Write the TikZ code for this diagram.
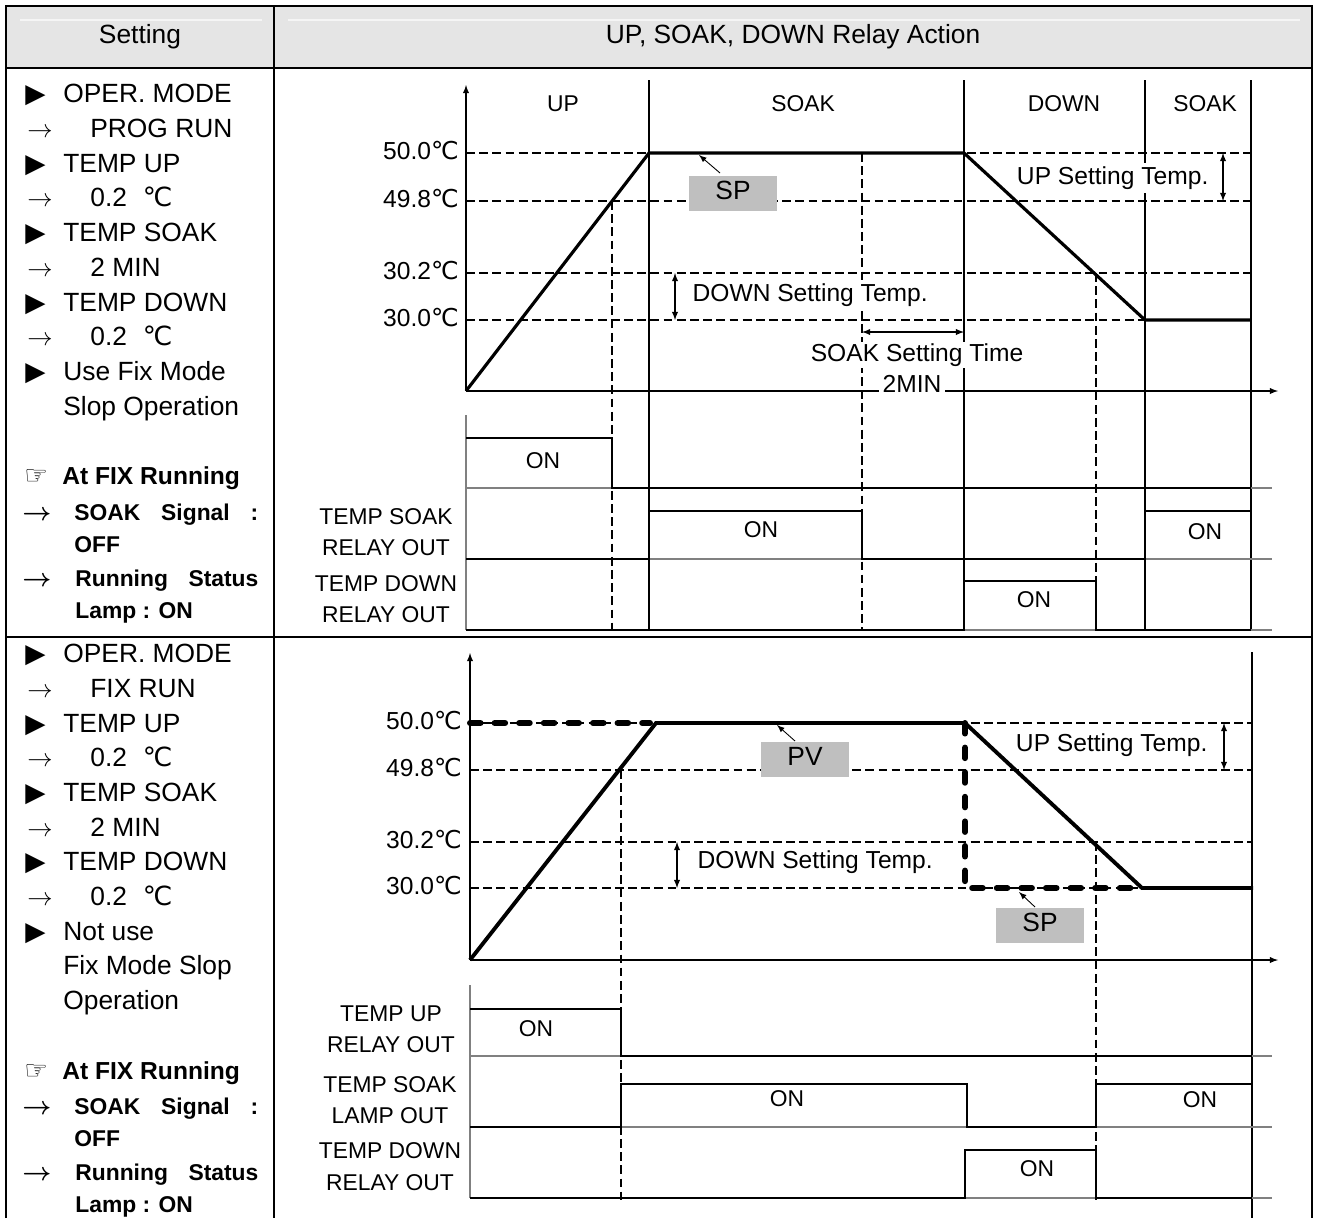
\documentclass[tikz,border=0pt]{standalone}
\usepackage{fontspec}
\setmainfont{Liberation Sans}
\newfontfamily\symfont{DejaVu Sans}
\usepackage{tikz}
\usetikzlibrary{arrows}

\newcommand{\dC}{{\symfont ℃}}
\newcommand{\bul}{{\symfont ▶}}
\newcommand{\rarr}{\(\rightarrow\)}
\newcommand{\brarr}{{\boldmath\(\rightarrow\)}}
\newcommand{\hand}{{\symfont ☞}}

\begin{document}
\begin{tikzpicture}[x=0.02cm, y=-0.02cm,
    every node/.style={inner sep=0pt, text height=0.72em, text depth=0pt, font=\fontsize{15}{18}\selectfont},
    tbl/.style={line width=1.3pt},
    lvl/.style={line width=0.8pt, dash pattern=on 5pt off 2.5pt},
    phaseln/.style={line width=0.6pt},
    curveln/.style={line width=1.8pt},
    sig/.style={line width=1.5pt},
    baseln/.style={color=gray, line width=0.6pt},
    spdash/.style={line width=3.4pt, line cap=round, dash pattern=on 6pt off 8pt},
    tagbox/.style={fill=gray!50, minimum width=1.76cm, minimum height=0.7cm},
    lbl/.style={font=\fontsize{14}{16}\selectfont},
    note/.style={lbl, fill=white, inner xsep=3pt, inner ysep=5pt},
    boldtxt/.style={anchor=west, font=\fontsize{13}{18}\bfseries},
    sigtxt/.style={font=\fontsize{13}{16}\selectfont},
    ptr/.style={-latex, line width=0.5pt},
    dimarr/.style={latex-latex, line width=0.6pt}]

\useasboundingbox (0,0) rectangle (1317,1218);
\fill[white] (0,0) rectangle (1317,1218);

% header
\fill[gray!20] (6,6) rectangle (1312,68);
\draw[gray!8, line width=0.8pt] (20,20) -- (262,20) (288,20) -- (1300,20);
\node (hset) at (140,37) {Setting};
\node (hact) at (793,37) {UP, SOAK, DOWN Relay Action};

% setting column, upper row
\foreach \y/\t in {96/OPER. MODE, 166/TEMP UP, 235/TEMP SOAK, 305/TEMP DOWN, 374/Use Fix Mode}{
    \node[anchor=west] (ba\y) at (25,\y) {\bul};
    \node[anchor=west] (ta\y) at (63,\y) {\t};
}
\foreach \y/\t in {131/PROG RUN, 200/0.2\hspace{0.6em}\dC, 270/2 MIN, 339/0.2\hspace{0.6em}\dC}{
    \node[anchor=west, font=\fontsize{14}{18}\selectfont] (ra\y) at (27,\y) {\rarr};
    \node[anchor=west] (sa\y) at (90,\y) {\t};
}
\node[anchor=west] (ta409) at (63,409) {Slop Operation};
\node[anchor=west] (ha) at (24,478) {\hand};
\node[anchor=west, font=\fontsize{14}{18}\bfseries] (fa) at (62,478) {At FIX Running};
\node[anchor=west] (qa1) at (22,514) {\brarr};
\node[boldtxt] (ga1) at (74,514) {\hbox to 3.68cm{SOAK\hfill Signal\hfill :}};
\node[boldtxt] (ga2) at (74,546) {OFF};
\node[anchor=west] (qa2) at (22,580) {\brarr};
\node[boldtxt] (ga3) at (75,580) {\hbox to 3.66cm{Running\hfill Status}};
\node[boldtxt] (ga4) at (75,612) {Lamp : ON};

% setting column, lower row
\foreach \y/\t in {656/OPER. MODE, 726/TEMP UP, 795/TEMP SOAK, 864/TEMP DOWN, 934/Not use}{
    \node[anchor=west] (bb\y) at (25,\y) {\bul};
    \node[anchor=west] (tb\y) at (63,\y) {\t};
}
\foreach \y/\t in {691/FIX RUN, 760/0.2\hspace{0.6em}\dC, 830/2 MIN, 899/0.2\hspace{0.6em}\dC}{
    \node[anchor=west, font=\fontsize{14}{18}\selectfont] (rb\y) at (27,\y) {\rarr};
    \node[anchor=west] (sb\y) at (90,\y) {\t};
}
\node[anchor=west] (tb968) at (63,968) {Fix Mode Slop};
\node[anchor=west] (tb1003) at (63,1003) {Operation};
\node[anchor=west] (hb) at (24,1073) {\hand};
\node[anchor=west, font=\fontsize{14}{18}\bfseries] (fb) at (62,1073) {At FIX Running};
\node[anchor=west] (qb1) at (22,1108) {\brarr};
\node[boldtxt] (gb1) at (74,1108) {\hbox to 3.68cm{SOAK\hfill Signal\hfill :}};
\node[boldtxt] (gb2) at (74,1140) {OFF};
\node[anchor=west] (qb2) at (22,1174) {\brarr};
\node[boldtxt] (gb3) at (75,1174) {\hbox to 3.66cm{Running\hfill Status}};
\node[boldtxt] (gb4) at (75,1206) {Lamp : ON};

% upper chart (PROG RUN)
\foreach \y/\t in {153/50.0, 201/49.8, 273/30.2, 320/30.0}{
    \draw[lvl] (466,\y) -- (1251,\y);
    \node[anchor=east, lbl] (ya\y) at (459,\y) {\t\dC};
}
\foreach \x in {649,964,1145,1251}
    \draw[phaseln] (\x,80) -- (\x,630);
\draw[lvl] (612,201) -- (612,630);
\draw[lvl] (862,153) -- (862,630);
\draw[lvl] (1096,273) -- (1096,630);
\draw[-latex, line width=0.6pt] (466,391) -- (466,85);
\draw[-latex, line width=0.6pt] (466,391) -- (1278,391);
\foreach \x/\t in {563/UP, 803/SOAK, 1064/DOWN, 1205/SOAK}
    \node[sigtxt] (ph\x) at (\x,105) {\t};
\draw[curveln] (466,391) -- (649,153) -- (964,153) -- (1145,320) -- (1251,320);

\node[tagbox] (spa) at (733,193) {SP};
\coordinate (spa1) at (720,173);
\coordinate (spa2) at (699,155);
\draw[ptr] (spa1) -- (spa2);
\draw[dimarr] (675,273) -- (675,320);
\node[anchor=west, note] (dna) at (687,295) {DOWN Setting Temp.};
\draw[dimarr] (1223,153) -- (1223,201);
\node[anchor=east, note] (upa) at (1214,178) {UP Setting Temp.};
\draw[dimarr] (862,332) -- (964,332);
\node[note, inner ysep=4pt] (sk) at (917,355) {SOAK Setting Time};
\node[lbl, fill=white, inner sep=2pt] (mn) at (912,386) {2MIN};

% upper relay outputs
\foreach \y in {488,559,630}
    \draw[baseln] (466,\y) -- (1272,\y);
\draw[baseln] (466,415) -- (466,630);
\draw[sig] (466,438) -- (612,438) -- (612,488) -- (1251,488);
\draw[sig] (466,559) -- (649,559) -- (649,511) -- (862,511) -- (862,559) -- (1145,559) -- (1145,511) -- (1251,511);
\draw[sig] (466,630) -- (964,630) -- (964,581) -- (1096,581) -- (1096,630) -- (1251,630);
\node[sigtxt] (ona1) at (543,462) {ON};
\node[sigtxt] (ona2) at (761,531) {ON};
\node[sigtxt] (ona3) at (1205,533) {ON};
\node[sigtxt] (ona4) at (1034,601) {ON};
\node[sigtxt] (la1) at (386,518) {TEMP SOAK};
\node[sigtxt] (la2) at (386,549) {RELAY OUT};
\node[sigtxt] (la3) at (386,585) {TEMP DOWN};
\node[sigtxt] (la4) at (386,616) {RELAY OUT};

% lower chart (FIX RUN)
\foreach \y/\t in {723/50.0, 770/49.8, 842/30.2, 888/30.0}{
    \draw[lvl] (470,\y) -- (1252,\y);
    \node[anchor=east, lbl] (yb\y) at (462,\y) {\t\dC};
}
\draw[phaseln] (1252,652) -- (1252,1218);
\draw[lvl] (621,770) -- (621,1200);
\draw[lvl] (1096,842) -- (1096,1200);
\draw[-latex, line width=0.6pt] (470,960) -- (470,653);
\draw[-latex, line width=0.6pt] (470,960) -- (1278,960);
\draw[line width=2.2pt] (470,960) -- (656,723) -- (965,723) -- (1142,888) -- (1253,888);
\draw[spdash] (470,723) -- (650,723);
\draw[spdash] (965,723) -- (965,888) -- (1142,888);

\node[tagbox] (pvb) at (805,759) {PV};
\coordinate (pvb1) at (795,741);
\coordinate (pvb2) at (777,725);
\draw[ptr] (pvb1) -- (pvb2);
\node[tagbox] (spb) at (1040,925) {SP};
\coordinate (spb1) at (1035,907);
\coordinate (spb2) at (1019,892);
\draw[ptr] (spb1) -- (spb2);
\draw[dimarr] (677,842) -- (677,888);
\node[anchor=west, note] (dnb) at (692,862) {DOWN Setting Temp.};
\draw[dimarr] (1224,723) -- (1224,770);
\node[anchor=east, note] (upb) at (1213,745) {UP Setting Temp.};

% lower relay outputs
\foreach \y in {1056,1127,1198}
    \draw[baseln] (470,\y) -- (1272,\y);
\draw[baseln] (470,985) -- (470,1198);
\draw[sig] (470,1009) -- (621,1009) -- (621,1056) -- (1252,1056);
\draw[sig] (470,1127) -- (621,1127) -- (621,1084) -- (967,1084) -- (967,1127) -- (1096,1127) -- (1096,1084) -- (1252,1084);
\draw[sig] (470,1198) -- (965,1198) -- (965,1150) -- (1096,1150) -- (1096,1198) -- (1252,1198);
\node[sigtxt] (onb1) at (536,1030) {ON};
\node[sigtxt] (onb2) at (787,1100) {ON};
\node[sigtxt] (onb3) at (1200,1101) {ON};
\node[sigtxt] (onb4) at (1037,1170) {ON};
\node[sigtxt] (lb1) at (391,1015) {TEMP UP};
\node[sigtxt] (lb2) at (391,1046) {RELAY OUT};
\node[sigtxt] (lb3) at (390,1086) {TEMP SOAK};
\node[sigtxt] (lb4) at (390,1117) {LAMP OUT};
\node[sigtxt] (lb5) at (390,1152) {TEMP DOWN};
\node[sigtxt] (lb6) at (390,1184) {RELAY OUT};

% table frame
\draw[tbl] (6,1218) -- (6,6) -- (1312,6) -- (1312,1218);
\draw[tbl] (6,68) -- (1312,68);
\draw[tbl] (6,637) -- (1312,637);
\draw[tbl] (274,6) -- (274,1218);
\end{tikzpicture}
\end{document}
